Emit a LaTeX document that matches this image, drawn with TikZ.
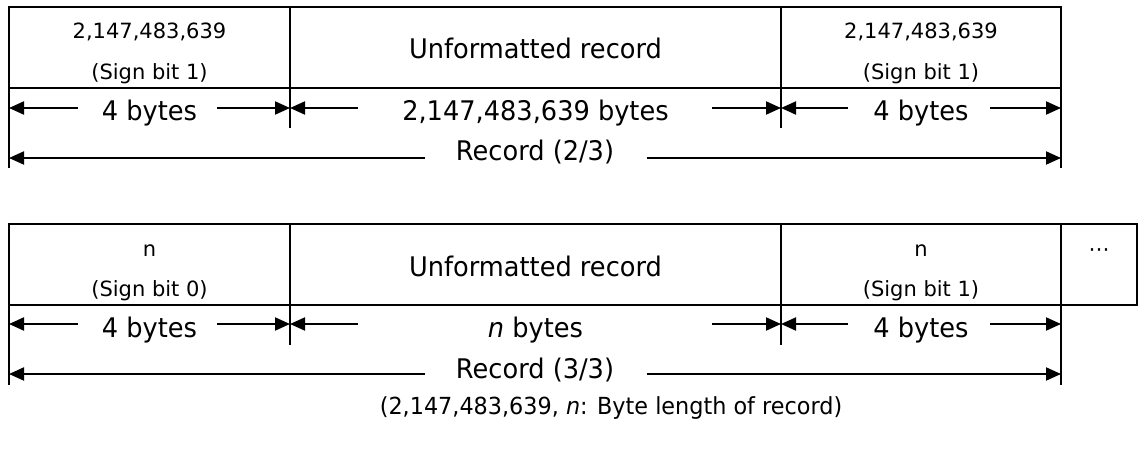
\documentclass[tikz,border=0pt]{standalone}
\usepackage{fontspec}
\setmainfont{DejaVu Sans}
\newfontfamily\narrowsans{DejaVu Sans}[FakeStretch=0.95]
\usetikzlibrary{arrows.meta}

\newcommand{\bigtext}{\narrowsans\fontsize{27}{32}\selectfont}
\newcommand{\smalltext}{\fontsize{21}{25}\selectfont}
\newcommand{\notetext}{\narrowsans\fontsize{23.5}{28}\selectfont}

\begin{document}
\begin{tikzpicture}[x=1pt, y=-1pt,
    cell/.style={draw, line width=2.2pt, inner sep=0pt, outer sep=0pt, anchor=north west},
    tick/.style={line width=2.2pt},
    stub/.style={line width=2pt, {Triangle[length=15pt, width=13pt]}-},
    small/.style={font=\smalltext, anchor=base, inner sep=0pt},
    big/.style={font=\bigtext, anchor=base, inner sep=0pt}]
        \useasboundingbox (0,0) rectangle (1139,452);

        % record 2/3
        \node[cell, minimum width=281pt, minimum height=81pt] (hA) at (9,7) {};
        \node[cell, minimum width=491pt, minimum height=81pt] (dA) at (290,7) {};
        \node[cell, minimum width=280pt, minimum height=81pt] (tA) at (781,7) {};
        \node[small] (hAn) at (149.5,39) {2,147,483,639};
        \node[small] (hAs) at (149.5,79) {(Sign bit 1)};
        \node[big] (dAt) at (535.5,59) {Unformatted record};
        \node[small] (tAn) at (921,39) {2,147,483,639};
        \node[small] (tAs) at (921,79) {(Sign bit 1)};

        \coordinate (kA1) at (290,128);
        \coordinate (kA2) at (781,128);
        \coordinate (kA0) at (9,168);
        \coordinate (kA3) at (1061,168);
        \draw[tick] (hA.south east) -- (kA1);
        \draw[tick] (dA.south east) -- (kA2);
        \draw[tick] (hA.south west) -- (kA0);
        \draw[tick] (tA.south east) -- (kA3);

        \coordinate (aA0) at (9,108);
        \coordinate (aA1) at (290,108);
        \coordinate (aA2) at (781,108);
        \coordinate (aA3) at (1061,108);
        \node[big] (bAh) at (149.5,120) {4 bytes};
        \node[big] (bAd) at (535.5,120) {2,147,483,639 bytes};
        \node[big] (bAt) at (921,120) {4 bytes};
        \draw[stub] (aA0) -- +(69,0);
        \draw[stub] (aA1) -- +(-73,0);
        \draw[stub] (aA1) -- +(68,0);
        \draw[stub] (aA2) -- +(-69,0);
        \draw[stub] (aA2) -- +(67,0);
        \draw[stub] (aA3) -- +(-71,0);

        \coordinate (rA0) at (9,158);
        \coordinate (rA1) at (1061,158);
        \node[big] (recA) at (535,160) {Record (2/3)};
        \draw[stub] (rA0) -- +(416,0);
        \draw[stub] (rA1) -- +(-414,0);

        % record 3/3
        \node[cell, minimum width=281pt, minimum height=81pt] (hB) at (9,224) {};
        \node[cell, minimum width=491pt, minimum height=81pt] (dB) at (290,224) {};
        \node[cell, minimum width=280pt, minimum height=81pt] (tB) at (781,224) {};
        \node[cell, minimum width=76pt, minimum height=81pt] (nB) at (1061,224) {};
        \node[small] (hBn) at (149.5,256) {n};
        \node[small] (hBs) at (149.5,296) {(Sign bit 0)};
        \node[big] (dBt) at (535.5,276) {Unformatted record};
        \node[small] (tBn) at (921,256) {n};
        \node[small] (tBs) at (921,296) {(Sign bit 1)};
        \node[small] (more) at (1099,256) {⋯};

        \coordinate (kB1) at (290,345);
        \coordinate (kB2) at (781,345);
        \coordinate (kB0) at (9,385);
        \coordinate (kB3) at (1061,385);
        \draw[tick] (hB.south east) -- (kB1);
        \draw[tick] (dB.south east) -- (kB2);
        \draw[tick] (hB.south west) -- (kB0);
        \draw[tick] (tB.south east) -- (kB3);

        \coordinate (aB0) at (9,324);
        \coordinate (aB1) at (290,324);
        \coordinate (aB2) at (781,324);
        \coordinate (aB3) at (1061,324);
        \node[big] (bBh) at (149.5,337) {4 bytes};
        \node[big] (bBd) at (535.5,337) {\textit{n} bytes};
        \node[big] (bBt) at (921,337) {4 bytes};
        \draw[stub] (aB0) -- +(69,0);
        \draw[stub] (aB1) -- +(-73,0);
        \draw[stub] (aB1) -- +(68,0);
        \draw[stub] (aB2) -- +(-69,0);
        \draw[stub] (aB2) -- +(67,0);
        \draw[stub] (aB3) -- +(-71,0);

        \coordinate (rB0) at (9,374);
        \coordinate (rB1) at (1061,374);
        \node[big] (recB) at (535,378) {Record (3/3)};
        \draw[stub] (rB0) -- +(416,0);
        \draw[stub] (rB1) -- +(-414,0);

        \node[big, font=\notetext] (note) at (611,414) {(2,147,483,639, \textit{n}: Byte length of record)};
\end{tikzpicture}
\end{document}
